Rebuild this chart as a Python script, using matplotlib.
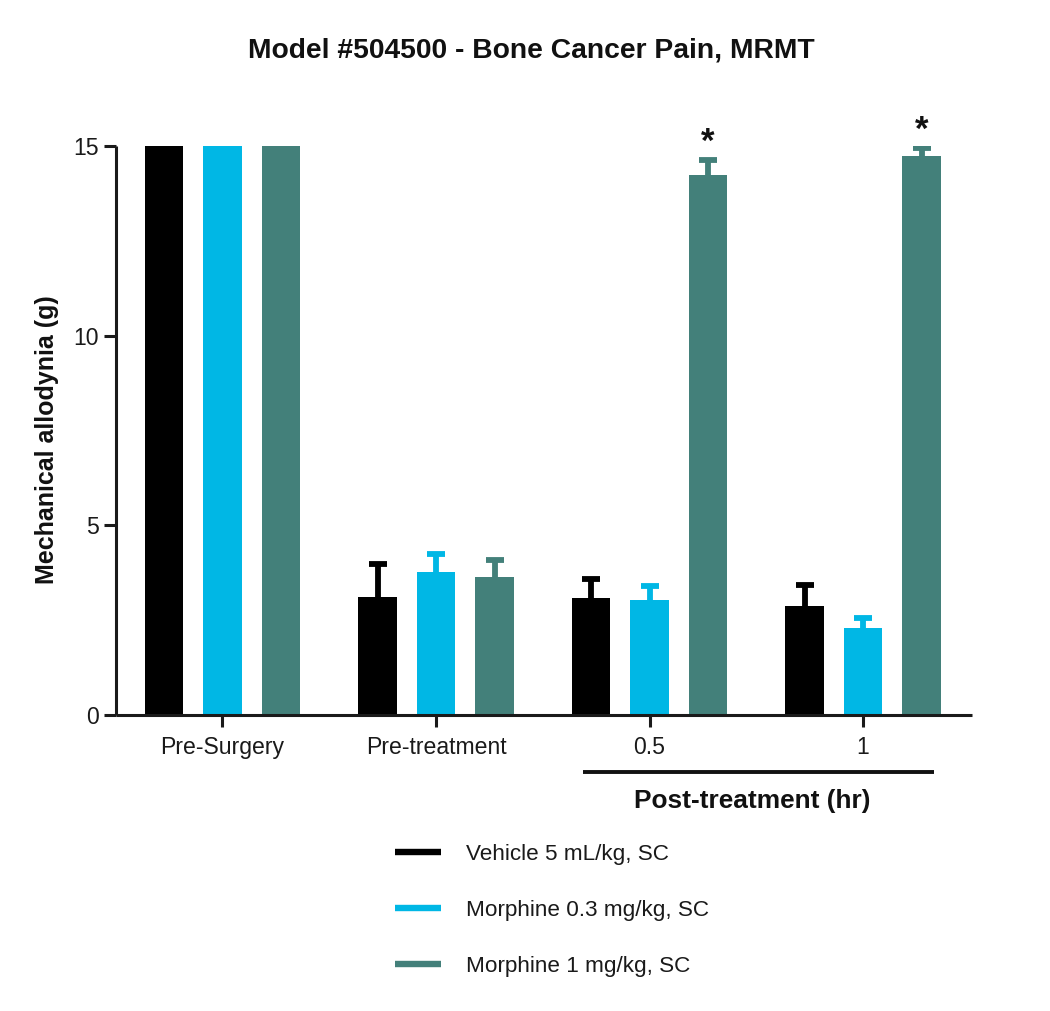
import matplotlib
matplotlib.use("Agg")
import matplotlib.pyplot as plt
import matplotlib.transforms as mtransforms
from matplotlib.lines import Line2D
import numpy as np

plt.rcParams['font.family'] = ['Liberation Sans', 'DejaVu Sans']

title = "Model #504500 - Bone Cancer Pain, MRMT"
categories = ["Pre-Surgery", "Pre-treatment", "0.5", "1"]
series_names = ["Vehicle 5 mL/kg, SC", "Morphine 0.3 mg/kg, SC", "Morphine 1 mg/kg, SC"]
colors = ["#000000", "#00B7E5", "#43807A"]

vehicle = [15.0, 3.12, 3.08, 2.87]
vehicle_err = [0.0, 0.85, 0.51, 0.56]
morph03 = [15.0, 3.77, 3.03, 2.29]
morph03_err = [0.0, 0.47, 0.36, 0.27]
morph1 = [15.0, 3.64, 14.23, 14.74]
morph1_err = [0.0, 0.45, 0.40, 0.21]

significant_m1 = [False, False, True, True]

ylabel = "Mechanical allodynia (g)"
group_label = "Post-treatment (hr)"
yticks = [0, 5, 10, 15]

values = [vehicle, morph03, morph1]
errors = [vehicle_err, morph03_err, morph1_err]

fig = plt.figure(figsize=(10.5, 10.11), dpi=100)
ax = fig.add_axes([0.1102, 0.2928, 0.9257 - 0.1102, 0.8556 - 0.2928])

x = np.arange(len(categories))
step = 0.274
width = 0.181
lw_axis = 2.2

for i, (vals, errs, col) in enumerate(zip(values, errors, colors)):
    xpos = x + (i - 1) * step
    ax.bar(xpos, vals, width=width, color=col, edgecolor='none', zorder=2)
    errs = np.array(errs)
    mask = errs > 0
    eb = ax.errorbar(xpos[mask], np.array(vals)[mask],
                     yerr=[np.zeros(mask.sum()), errs[mask]],
                     fmt='none', ecolor=col, elinewidth=4.2, capsize=6.8,
                     capthick=4.2, zorder=1)
    caps = eb[1]
    if len(caps) == 2:
        caps[0].set_visible(False)

# significance asterisks
xm1 = x + step
for xi, v, e, s in zip(xm1, morph1, morph1_err, significant_m1):
    if s:
        ax.text(xi, v + e + 0.22, "*", ha='center', va='baseline',
                fontsize=25, fontweight='bold', color='#111111', clip_on=False)

ax.set_xlim(-0.5, 3.51)
ax.set_ylim(0, 15)
ax.set_yticks(yticks)
ax.set_xticks(x)
ax.set_xticklabels(categories)

for side in ['top', 'right']:
    ax.spines[side].set_visible(False)
for side in ['left', 'bottom']:
    ax.spines[side].set_linewidth(lw_axis)
    ax.spines[side].set_color('#1a1a1a')
    ax.spines[side].set_capstyle('butt')

ax.tick_params(axis='both', which='major', length=8.6, width=lw_axis,
               color='#1a1a1a', labelsize=16.6, labelcolor='#1a1a1a')
ax.tick_params(axis='x', pad=6.5)
ax.tick_params(axis='y', pad=3.5)

# Post-treatment grouping line
trans = mtransforms.blended_transform_factory(ax.transData, ax.transAxes)
ax.plot([1.69, 3.33], [-0.0996, -0.0996], transform=trans, color='#111111',
        lw=2.8, clip_on=False, solid_capstyle='butt')
ax.text(2.48, -0.1506, group_label, transform=trans, ha='center', va='center',
        fontsize=18.9, fontweight='bold', color='#111111')

# labels
fig.text(47 / 1050, 1 - 440 / 1011, ylabel, rotation=90, ha='center', va='center',
         fontsize=18, fontweight='bold', color='#111111')
fig.text(531.5 / 1050, 1 - 57.7 / 1011, title, ha='center', va='baseline',
         fontsize=20.3, fontweight='bold', color='#111111')

handles = [Line2D([0], [0], color=c, lw=4.6, solid_capstyle='butt') for c in colors]
leg = fig.legend(handles, series_names, loc='upper left',
                 bbox_to_anchor=(395 / 1050, 1 - 844 / 1011),
                 frameon=False, fontsize=16.2, handlelength=2.05,
                 handletextpad=1.1, labelspacing=1.55, borderpad=0,
                 borderaxespad=0)
for t in leg.get_texts():
    t.set_color('#1a1a1a')

fig.savefig("out.png", dpi=100)
